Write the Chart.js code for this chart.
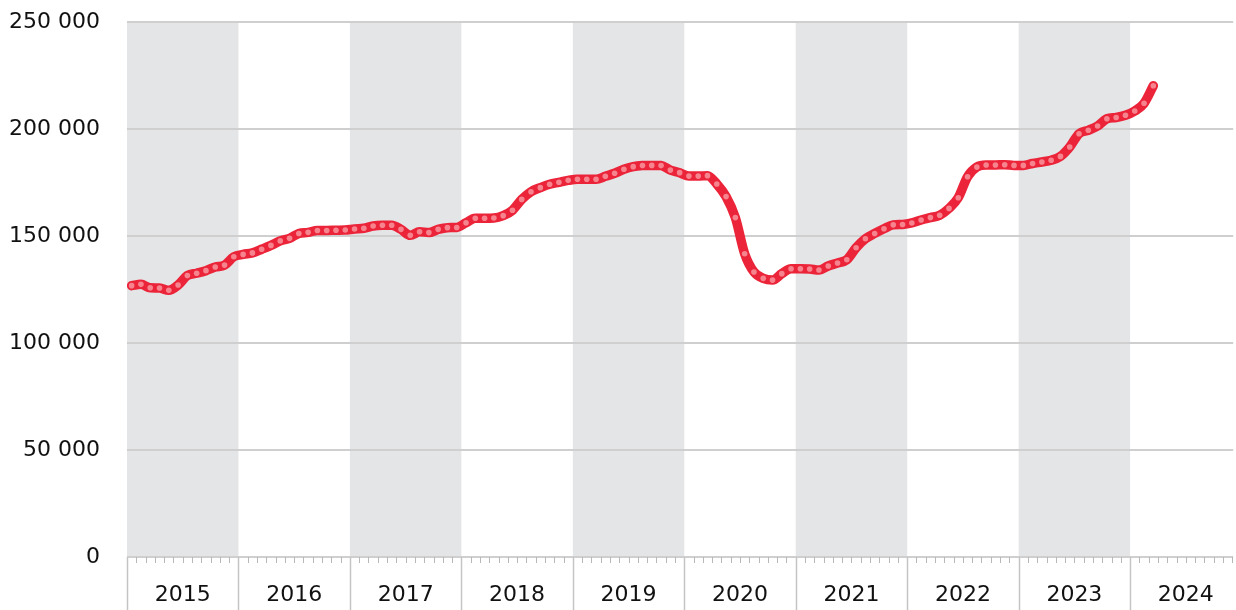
<!DOCTYPE html>
<html>
<head>
<meta charset="utf-8">
<script src="https://cdn.jsdelivr.net/npm/chart.js@4/dist/chart.umd.min.js"></script>
<style>
  html, body { margin:0; padding:0; background:#fff; }
  #wrap { width:1236px; height:610px; }
</style>
</head>
<body>
<div id="wrap"><canvas id="chart"></canvas></div>
<script>
// ========================
// DONNEES (milliers, un point par mois)
// ========================
const YEARS = [2015, 2016, 2017, 2018, 2019, 2020, 2021, 2022, 2023, 2024];
const v2015 = [126.8, 127.4, 125.8, 125.7, 124.6, 127.1, 131.5, 132.6, 133.8, 135.5, 136.4, 140.3];
const v2016 = [141.4, 142.1, 143.8, 145.6, 147.7, 148.9, 151.2, 151.7, 152.6, 152.6, 152.7, 152.8];
const v2017 = [153.3, 153.6, 154.7, 155.0, 155.0, 153.1, 150.3, 152.0, 151.6, 153.1, 153.9, 154.0];
const v2018 = [156.2, 158.3, 158.3, 158.4, 159.5, 162.0, 167.1, 170.7, 172.6, 174.2, 175.1, 176.0];
const v2019 = [176.5, 176.5, 176.5, 177.9, 179.3, 181.2, 182.4, 182.9, 183.0, 182.9, 180.8, 179.6];
const v2020 = [178.0, 178.0, 178.2, 174.3, 168.4, 158.6, 141.7, 133.2, 130.2, 129.4, 132.4, 134.7];
const v2021 = [134.7, 134.6, 134.1, 136.0, 137.4, 138.9, 144.5, 148.7, 151.2, 153.4, 155.2, 155.4];
const v2022 = [156.1, 157.5, 158.6, 159.7, 162.9, 167.9, 177.7, 182.2, 183.2, 183.2, 183.3, 183.0];
const v2023 = [183.0, 183.9, 184.6, 185.4, 187.2, 191.6, 197.8, 199.4, 201.4, 204.8, 205.4, 206.4];
const v2024 = [208.4, 212.0, 220.2];
const Y_TICKS = [0, 50000, 100000, 150000, 200000, 250000];

const X_MAX = 119.1; // le graphique coupe 2024 au bord droit

const points = [];
[v2015, v2016, v2017, v2018, v2019, v2020, v2021, v2022, v2023, v2024].forEach((arr, yi) => {
  arr.forEach((v, m) => points.push({ x: yi * 12 + m + 0.5, y: v * 1000 }));
});

function fmt(n) {
  return String(n).replace(/\B(?=(\d{3})+(?!\d))/g, ' ');
}

const FONT = '"DejaVu Sans", sans-serif';
const TXT = '#111';

// ========================
// PLUGIN ANNEES (bandes + axe x)
// ========================
const yearAxis = {
  id: 'yearAxis',
  beforeDraw(chart) {
    const { ctx, chartArea: a, scales: { x } } = chart;
    ctx.save();
    ctx.fillStyle = '#e4e5e7';
    YEARS.forEach((yr, i) => {
      if (i % 2) return;
      const x0 = x.getPixelForValue(i * 12);
      const x1 = Math.min(x.getPixelForValue((i + 1) * 12), a.right);
      ctx.fillRect(x0, a.top, x1 - x0, a.bottom - a.top);
    });
    ctx.restore();
  },
  afterDraw(chart) {
    const { ctx, chartArea: a, scales: { x } } = chart;
    ctx.save();
    for (let m = 0; m <= Math.floor(X_MAX); m++) {
      const px = Math.round(x.getPixelForValue(m)) + 0.5;
      ctx.beginPath();
      if (m % 12 === 0) {
        ctx.strokeStyle = '#c4c4c4';
        ctx.lineWidth = 1.5;
        ctx.moveTo(px, a.bottom);
        ctx.lineTo(px, chart.height);
      } else {
        ctx.strokeStyle = '#b8b8b8';
        ctx.lineWidth = 1;
        ctx.moveTo(px, a.bottom);
        ctx.lineTo(px, a.bottom + 6);
      }
      ctx.stroke();
    }
    ctx.fillStyle = TXT;
    ctx.font = '22px ' + FONT;
    ctx.textAlign = 'center';
    ctx.textBaseline = 'middle';
    YEARS.forEach((yr, i) => {
      ctx.fillText(String(yr), x.getPixelForValue(i * 12 + 6), a.bottom + 38);
    });
    ctx.restore();
  }
};

// ========================
// GRAPHIQUE
// ========================
new Chart(document.getElementById('chart'), {
  type: 'line',
  data: {
    datasets: [{
      data: points,
      borderColor: '#ec2439',
      borderWidth: 9.5,
      borderCapStyle: 'round',
      borderJoinStyle: 'round',
      cubicInterpolationMode: 'monotone',
      pointRadius: 2.8,
      pointBorderWidth: 0,
      pointBackgroundColor: '#f6848f',
      pointHoverRadius: 2.8
    }]
  },
  options: {
    responsive: true,
    maintainAspectRatio: false,
    animation: false,
    events: [],
    layout: { padding: { top: 22, right: 0, bottom: 53, left: 0 } },
    plugins: { legend: { display: false }, tooltip: { enabled: false } },
    scales: {
      x: { type: 'linear', min: 0, max: X_MAX, display: false },
      y: {
        min: 0, max: 250000,
        afterBuildTicks: s => { s.ticks = Y_TICKS.map(v => ({ value: v })); },
        afterFit: s => { s.width = 127; s.paddingTop = 0; s.paddingBottom = 0; },
        border: { display: false },
        grid: { color: '#cfcfcf', lineWidth: 2, drawTicks: false },
        ticks: {
          padding: 27,
          color: TXT,
          font: { family: FONT, size: 22 },
          callback: v => fmt(v)
        }
      }
    }
  },
  plugins: [yearAxis]
});
</script>
</body>
</html>
